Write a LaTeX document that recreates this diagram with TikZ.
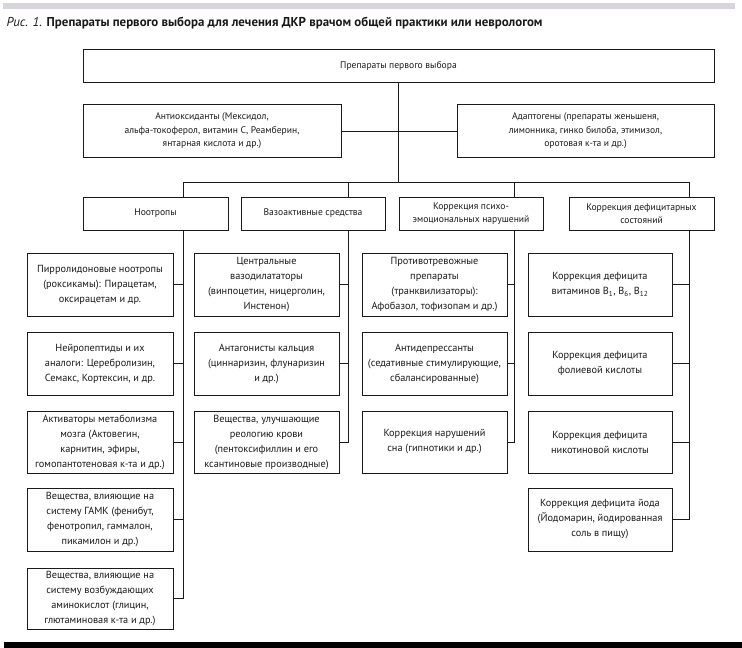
\documentclass[tikz,border=0pt]{standalone}
\usepackage{fontspec}
\setmainfont{PT Sans}
\definecolor{bargray}{HTML}{D8D4DC}
\definecolor{ink}{HTML}{1A1A1A}
\begin{document}
\begin{tikzpicture}[x=1pt,y=-1pt,
  every node/.style={text=ink},
  box/.style={draw=ink,line width=0.9pt,align=center,inner sep=0pt,
    font=\fontsize{10.3}{15}\selectfont},
  ubox/.style={box,font=\fontsize{9.6}{13.4}\selectfont},
  conn/.style={draw=ink,line width=0.9pt},
  col1/.style={box,minimum width=146pt},
  col2/.style={box,minimum width=145pt},
  col3/.style={box,minimum width=145pt},
  col4/.style={box,minimum width=144pt}]
\useasboundingbox (0,0) rectangle (742,648);
\fill[bargray] (3,3) rectangle (735,9);
\fill[black] (4,642) rectangle (742,648);
\node[anchor=west,font=\fontsize{12.9}{14}\selectfont] (title) at (3,23)
  {\textit{Рис. 1.} \textbf{Препараты первого выбора для лечения ДКР врачом общей практики или неврологом}};
% top level
\node[ubox,minimum width=631pt,minimum height=33pt] (top) at (398.5,65.5) {Препараты первого выбора};
\node[ubox,minimum width=258pt,minimum height=53pt] (anti) at (212,131)
  {Антиоксиданты (Мексидол,\\альфа-токоферол, витамин С, Реамберин,\\янтарная кислота и др.)};
\node[ubox,minimum width=257pt,minimum height=53pt] (adapt) at (585.5,131)
  {Адаптогены (препараты женьшеня,\\лимонника, гинко билоба, этимизол,\\оротовая к-та и др.)};
% categories
\node[ubox,minimum width=145pt,minimum height=33pt] (noo) at (155.5,213.5) {Ноотропы};
\node[ubox,minimum width=144pt,minimum height=33pt] (vaso) at (313,213.5) {Вазоактивные средства};
\node[ubox,minimum width=144pt,minimum height=33pt] (psy) at (471,213.5) {Коррекция психо-\\эмоциональных нарушений};
\node[ubox,minimum width=145pt,minimum height=33pt] (def) at (641.5,213.5) {Коррекция дефицитарных\\состояний};
% column 1
\node[col1,minimum height=63pt] (n1) at (100,284.5) {Пирролидоновые ноотропы\\(роксикамы): Пирацетам,\\оксирацетам и др.};
\node[col1,minimum height=63pt] (n2) at (100,363.5) {Нейропептиды и их\\аналоги: Церебролизин,\\Семакс, Кортексин, и др.};
\node[col1,minimum height=62pt] (n3) at (100,442) {Активаторы метаболизма\\мозга (Актовегин,\\карнитин, эфиры,\\гомопантотеновая к-та и др.)};
\node[col1,minimum height=63pt] (n4) at (100,519.5) {Вещества, влияющие на\\систему ГАМК (фенибут,\\фенотропил, гаммалон,\\пикамилон и др.)};
\node[col1,minimum height=61pt] (n5) at (100,598.5) {Вещества, влияющие на\\систему возбуждающих\\аминокислот (глицин,\\глютаминовая к-та и др.)};
% column 2
\node[col2,minimum height=63pt] (v1) at (266.5,284.5) {Центральные\\вазодилататоры\\(винпоцетин, ницерголин,\\Инстенон)};
\node[col2,minimum height=63pt] (v2) at (266.5,363.5) {Антагонисты кальция\\(циннаризин, флунаризин\\и др.)};
\node[col2,minimum height=62pt] (v3) at (266.5,442) {Вещества, улучшающие\\реологию крови\\(пентоксифиллин и его\\ксантиновые производные)};
% column 3
\node[col3,minimum height=63pt] (p1) at (434.5,284.5) {Противотревожные\\препараты\\(транквилизаторы):\\Афобазол, тофизопам и др.)};
\node[col3,minimum height=63pt] (p2) at (434.5,363.5) {Антидепрессанты\\(седативные стимулирующие,\\сбалансированные)};
\node[col3,minimum height=62pt] (p3) at (434.5,442) {Коррекция нарушений\\сна (гипнотики и др.)};
% column 4
\node[col4,minimum height=63pt] (d1) at (600,284.5) {Коррекция дефицита\\витаминов B\textsubscript{1}, B\textsubscript{6}, B\textsubscript{12}};
\node[col4,minimum height=63pt] (d2) at (600,363.5) {Коррекция дефицита\\фолиевой кислоты};
\node[col4,minimum height=62pt] (d3) at (600,442) {Коррекция дефицита\\никотиновой кислоты};
\node[col4,minimum height=63pt] (d4) at (600,519.5) {Коррекция дефицита йода\\(Йодомарин, йодированная\\соль в пищу)};
% connectors
\coordinate (bus) at (398,182);
\coordinate (t1) at (183,182);
\coordinate (t2) at (348,182);
\coordinate (t3) at (514,182);
\coordinate (t4) at (689,182);
\draw[conn] (top.south -| bus) -- (bus);
\draw[conn] (anti.east) -- (adapt.west);
\draw[conn] (t1) -- (t4);
\draw[conn] (t1) -- (t1 |- noo.north);
\draw[conn] (t2) -- (t2 |- vaso.north);
\draw[conn] (t3) -- (t3 |- psy.north);
\draw[conn] (t4) -- (t4 |- def.north);
\draw[conn] (t1 |- noo.south) -- (t1 |- n5.east) -- (n5.east);
\foreach \n in {n1,n2,n3,n4} \draw[conn] (\n.east) -- (t1 |- \n.east);
\draw[conn] (t2 |- vaso.south) -- (t2 |- v3.east) -- (v3.east);
\foreach \n in {v1,v2} \draw[conn] (\n.east) -- (t2 |- \n.east);
\draw[conn] (t3 |- psy.south) -- (t3 |- p3.east) -- (p3.east);
\foreach \n in {p1,p2} \draw[conn] (\n.east) -- (t3 |- \n.east);
\draw[conn] (t4 |- def.south) -- (t4 |- d4.east) -- (d4.east);
\foreach \n in {d1,d2,d3} \draw[conn] (\n.east) -- (t4 |- \n.east);
\end{tikzpicture}
\end{document}
